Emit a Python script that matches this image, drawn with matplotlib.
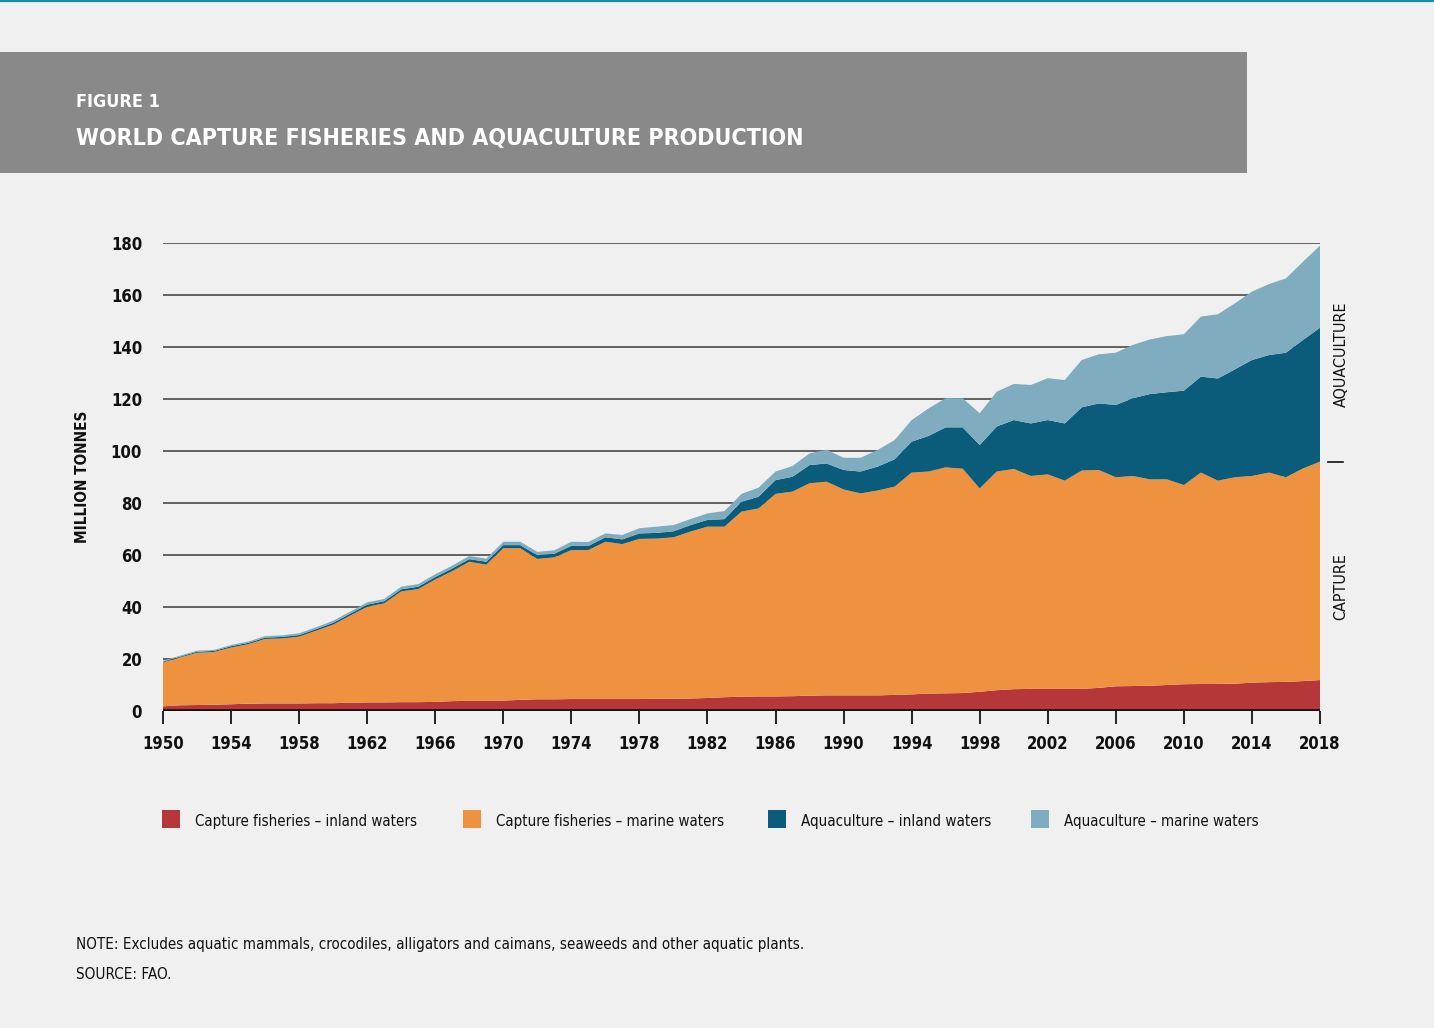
import matplotlib
matplotlib.use("Agg")
import matplotlib.pyplot as plt
from matplotlib import font_manager as fm
from matplotlib.patches import Rectangle
from matplotlib.lines import Line2D
import matplotlib.transforms as mtransforms

# ---------------- data (million tonnes) ----------------
years = list(range(1950, 2019))

capture_inland = [1.8, 2.2, 2.3, 2.4, 2.6, 2.8, 2.9, 2.9, 2.9, 3.0,
                  3.0, 3.2, 3.3, 3.3, 3.4, 3.4, 3.5, 3.8, 3.9, 3.9,
                  4.0, 4.3, 4.5, 4.5, 4.6, 4.6, 4.6, 4.6, 4.6, 4.7,
                  4.7, 4.8, 5.0, 5.3, 5.5, 5.6, 5.6, 5.7, 5.9, 6.0,
                  6.0, 6.0, 6.0, 6.2, 6.4, 6.7, 6.8, 6.9, 7.4, 8.0,
                  8.4, 8.5, 8.5, 8.5, 8.5, 8.9, 9.5, 9.6, 9.7, 10.0,
                  10.3, 10.4, 10.4, 10.5, 10.9, 11.1, 11.2, 11.5, 11.9]

capture_marine = [16.9, 18.4, 20.1, 20.3, 21.8, 22.9, 24.8, 25.0, 25.7, 27.9,
                  30.2, 33.5, 36.8, 38.1, 42.6, 43.5, 47.1, 50.0, 53.5, 52.4,
                  58.6, 58.3, 54.0, 54.6, 57.3, 57.3, 60.5, 59.6, 61.6, 61.6,
                  62.1, 64.2, 65.9, 65.6, 71.2, 72.3, 77.9, 78.7, 81.7, 82.2,
                  79.2, 77.7, 78.8, 80.1, 85.3, 85.4, 86.9, 86.3, 78.2, 84.1,
                  84.7, 81.9, 82.5, 80.1, 84.0, 83.8, 80.4, 80.8, 79.4, 79.1,
                  76.6, 81.3, 78.2, 79.4, 79.5, 80.6, 78.7, 81.8, 84.0]

aqua_inland = [0.3, 0.3, 0.4, 0.4, 0.5, 0.5, 0.5, 0.6, 0.6, 0.6,
               0.7, 0.7, 0.8, 0.8, 0.8, 0.9, 0.9, 1.0, 1.0, 1.1,
               1.2, 1.2, 1.4, 1.4, 1.6, 1.6, 1.7, 1.8, 2.1, 2.2,
               2.3, 2.5, 2.6, 2.9, 3.8, 4.5, 5.3, 5.7, 7.0, 7.0,
               7.5, 8.4, 9.2, 10.5, 11.9, 13.7, 15.4, 15.9, 16.7, 17.3,
               18.8, 20.2, 20.9, 22.0, 24.3, 25.6, 27.8, 29.9, 32.8, 33.5,
               36.3, 36.9, 39.3, 41.5, 44.6, 45.2, 47.9, 49.4, 51.5]

aqua_marine = [0.3, 0.4, 0.4, 0.4, 0.5, 0.5, 0.6, 0.6, 0.7, 0.7,
               0.8, 0.8, 0.9, 0.9, 1.0, 1.0, 1.1, 1.1, 1.2, 1.2,
               1.3, 1.3, 1.3, 1.3, 1.6, 1.5, 1.5, 1.7, 2.0, 2.4,
               2.4, 2.3, 2.5, 3.1, 3.0, 3.5, 3.3, 4.1, 4.5, 5.3,
               4.7, 5.3, 6.4, 7.4, 8.3, 10.6, 11.2, 11.2, 12.2, 13.4,
               13.9, 14.8, 16.1, 16.7, 18.2, 18.9, 20.1, 20.5, 21.0, 21.6,
               21.7, 23.1, 24.7, 25.4, 26.3, 27.3, 28.6, 30.1, 31.6]

series_labels = ["Capture fisheries \u2013 inland waters",
                 "Capture fisheries \u2013 marine waters",
                 "Aquaculture \u2013 inland waters",
                 "Aquaculture \u2013 marine waters"]
series_colors = ["#b5373a", "#ee9240", "#0b5c7b", "#7fadbf"]

yticks = [0, 20, 40, 60, 80, 100, 120, 140, 160, 180]
xticks = list(range(1950, 2019, 4))

title_small = "FIGURE 1"
title_main = "WORLD CAPTURE FISHERIES AND AQUACULTURE PRODUCTION"
ylabel = "MILLION TONNES"
note = "NOTE: Excludes aquatic mammals, crocodiles, alligators and caimans, seaweeds and other aquatic plants."
source = "SOURCE: FAO."
side_top = "AQUACULTURE"
side_bottom = "CAPTURE"

# ---------------- fonts ----------------
available = {f.name for f in fm.fontManager.ttflist}
narrow = None
for cand in ["Liberation Sans Narrow", "DejaVu Sans Condensed"]:
    if cand in available:
        narrow = cand
        break
if narrow is None:
    FONT = dict(family="DejaVu Sans", stretch="condensed")
else:
    FONT = dict(family=narrow)

W, H = 1434, 1028
DPI = 100
BG = "#f0f0f0"
INK = "#111111"
fig = plt.figure(figsize=(W / DPI, H / DPI), dpi=DPI, facecolor=BG)


def fx(px):
    return px / W


def fy(py):
    return 1 - py / H


# top teal line
fig.add_artist(Line2D([0, 1], [fy(0.8), fy(0.8)], color="#1a8aa5", lw=1.6,
                      transform=fig.transFigure))
# header band
fig.add_artist(Rectangle((0, fy(173)), fx(1247), (173 - 52) / H,
                         transform=fig.transFigure, facecolor="#898989",
                         edgecolor="none"))

renderer = fig.canvas.get_renderer()


def fit_text(x, y, s, target_w, size, **kw):
    t = fig.text(fx(x), fy(y), s, fontsize=size, **FONT, **kw)
    w = t.get_window_extent(renderer).width
    if w > 0:
        t.set_fontsize(size * target_w / w)
    return t


fit_text(76, 107, title_small, 84, 24, color="white", va="baseline",
         fontweight="bold")
fit_text(76, 145, title_main, 725, 30, color="white", va="baseline",
         fontweight="bold")

# ---------------- axes ----------------
ax = fig.add_axes([fx(163), fy(711), fx(1320) - fx(163), (711 - 243) / H])
ax.set_facecolor(BG)
ax.stackplot(years, capture_inland, capture_marine, aqua_inland, aqua_marine,
             colors=series_colors, linewidth=0, zorder=3)
ax.set_xlim(years[0], years[-1])
ax.set_ylim(0, 180)
for v in yticks[1:]:
    ax.axhline(v, color="#3a3a3a", lw=1.1, zorder=1)
ax.axhline(0, color=INK, lw=2.6, zorder=4)
for s in ax.spines.values():
    s.set_visible(False)
ax.set_yticks(yticks)
ax.set_xticks(xticks)
ax.tick_params(axis="y", length=0, pad=15, labelsize=12)
ax.tick_params(axis="x", length=9, width=1.4, color="#222222", pad=8,
               labelsize=12, direction="out")
for lab in ax.get_yticklabels() + ax.get_xticklabels():
    lab.set(**FONT)
    lab.set_fontweight("bold")
    lab.set_color(INK)

ax.set_ylabel(ylabel, fontsize=11, fontweight="bold", color=INK,
              labelpad=15, **FONT)

# side labels
fig.text(fx(1341), fy(354), side_top, rotation=90, ha="center", va="center",
         fontsize=11.5, color=INK, **FONT)
fig.text(fx(1341), fy(587), side_bottom, rotation=90, ha="center", va="center",
         fontsize=11.5, color=INK, **FONT)
capture_total_last = capture_inland[-1] + capture_marine[-1]
blend = mtransforms.blended_transform_factory(ax.transAxes, ax.transData)
ax.plot([1.007, 1.020], [capture_total_last, capture_total_last],
        transform=blend, color=INK, lw=1.2, clip_on=False, zorder=5)

# ---------------- legend ----------------
leg_x = [162, 463, 768, 1031]
leg_w = [223, 228, 190, 196]
for x0, wt, lab, col in zip(leg_x, leg_w, series_labels, series_colors):
    fig.add_artist(Rectangle((fx(x0), fy(828)), fx(18), 18 / H,
                             transform=fig.transFigure, facecolor=col,
                             edgecolor="none"))
    fit_text(x0 + 33, 826, lab, wt, 15, color=INK, va="baseline")

# ---------------- note ----------------
fit_text(76, 949, note, 728, 14, color=INK, va="baseline")
fit_text(76, 979, source, 96, 14, color=INK, va="baseline")

fig.savefig("out.png", dpi=DPI, facecolor=BG)
